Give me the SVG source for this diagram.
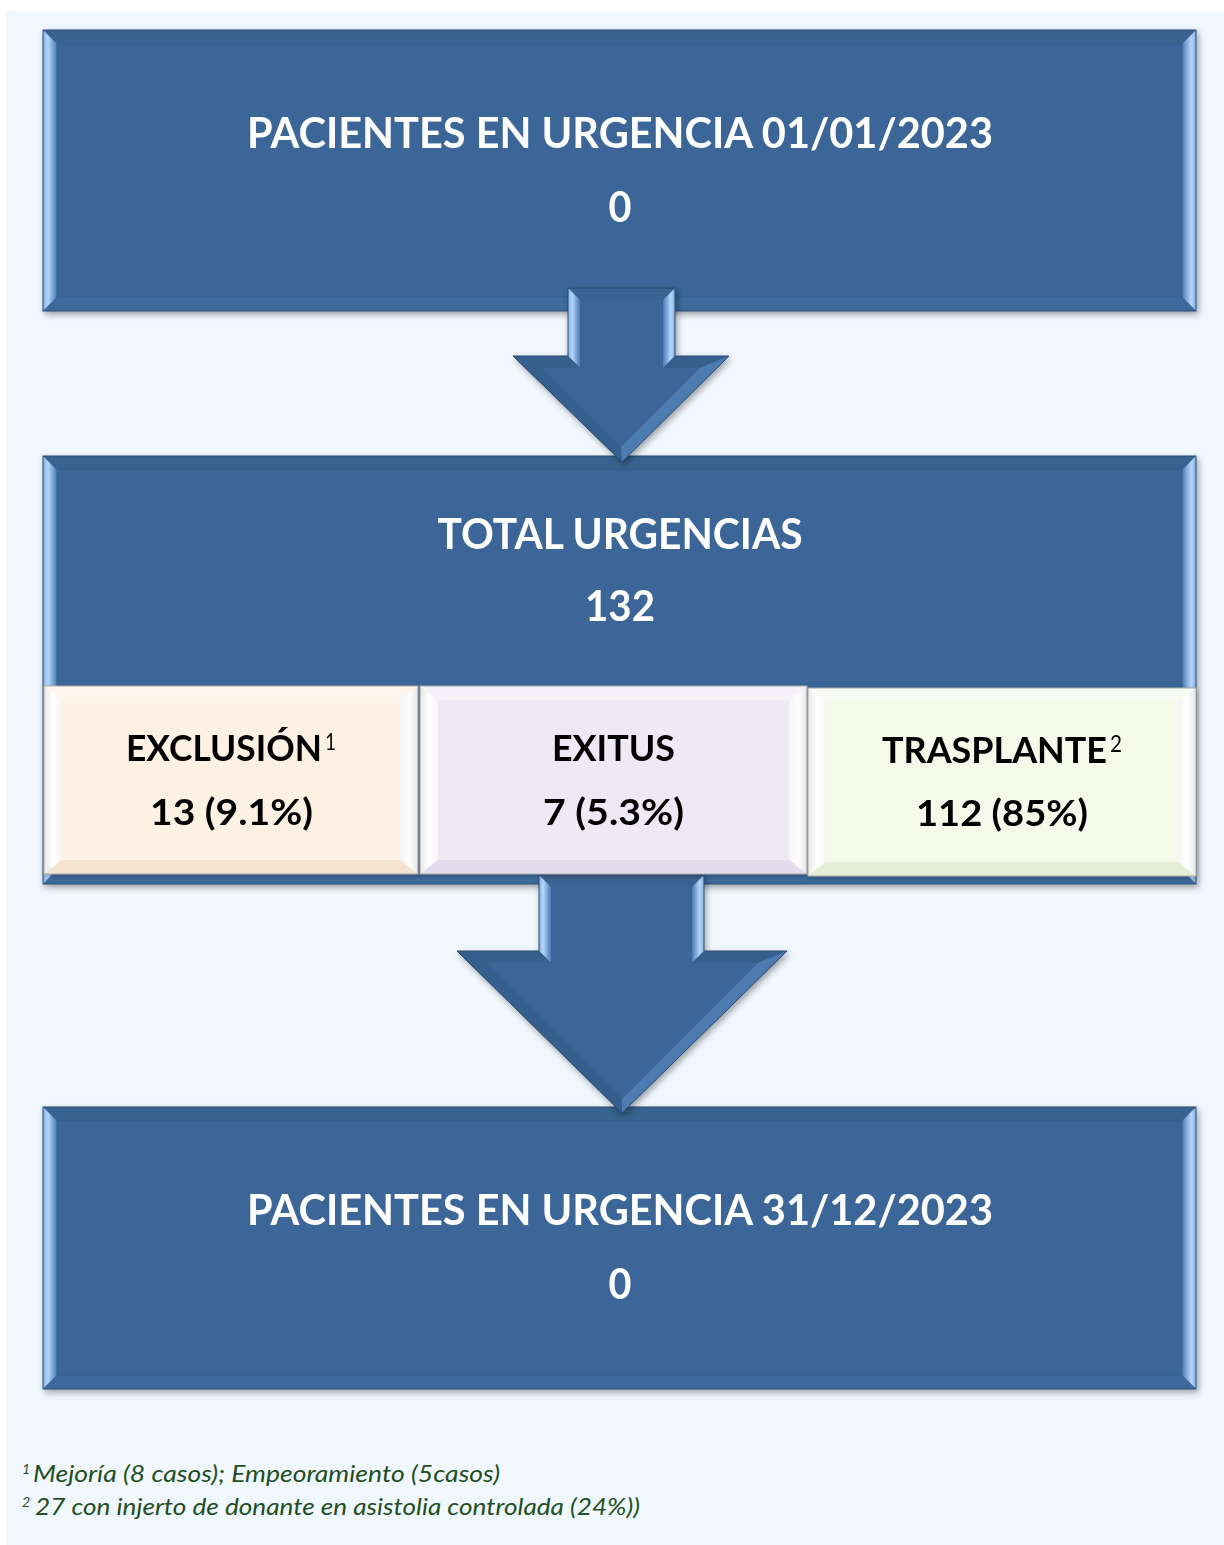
<svg xmlns="http://www.w3.org/2000/svg" width="1224" height="1545" viewBox="0 0 1224 1545">
<defs>
<style>
.bg{fill:#F0F7FD}
.main{fill:#3B6697}
.btop{fill:#38628F}
.bbot{fill:#3E6A9C}
.edge{fill:none;stroke:#2C4D75;stroke-width:1}
.inner{fill:none;stroke:#35608F;stroke-width:1}
.tw{font-family:Lato,"Open Sans","Liberation Sans",sans-serif;font-weight:700;fill:#FFFFFF;text-anchor:middle}
.tb{font-family:Lato,"Open Sans","Liberation Sans",sans-serif;font-weight:700;fill:#000000;text-anchor:middle}
.sup{font-family:Lato,"Open Sans","Liberation Sans",sans-serif;font-weight:400;fill:#000000}
.fn{font-family:Lato,"Open Sans","Liberation Sans",sans-serif;font-style:italic;fill:#1F4F22}
.sedge{fill:none;stroke:#A9A9A9;stroke-width:1}
</style>
<linearGradient id="gL" x1="0" y1="0" x2="1" y2="0">
<stop offset="0" stop-color="#86B0E2"/><stop offset="0.35" stop-color="#B4D6FB"/><stop offset="1" stop-color="#4C7BB3"/>
</linearGradient>
<linearGradient id="gR" x1="1" y1="0" x2="0" y2="0">
<stop offset="0" stop-color="#86B0E2"/><stop offset="0.35" stop-color="#B4D6FB"/><stop offset="1" stop-color="#4C7BB3"/>
</linearGradient>
<linearGradient id="gSlR" x1="0" y1="0" x2="1" y2="1">
<stop offset="0" stop-color="#5A88BF"/><stop offset="1" stop-color="#3F6C9F"/>
</linearGradient>
<linearGradient id="wL" x1="0" y1="0" x2="1" y2="0">
<stop offset="0" stop-color="#E8E8E8"/><stop offset="0.5" stop-color="#FFFFFF"/><stop offset="1" stop-color="#F4F4F4"/>
</linearGradient>
<linearGradient id="wR" x1="1" y1="0" x2="0" y2="0">
<stop offset="0" stop-color="#E8E8E8"/><stop offset="0.5" stop-color="#FFFFFF"/><stop offset="1" stop-color="#F4F4F4"/>
</linearGradient>
<filter id="sh" x="-5%" y="-5%" width="110%" height="115%">
<feDropShadow dx="2" dy="3" stdDeviation="3" flood-color="#000" flood-opacity="0.35"/>
</filter>
<filter id="sh2" x="-5%" y="-5%" width="110%" height="115%">
<feDropShadow dx="1" dy="2" stdDeviation="2" flood-color="#000" flood-opacity="0.25"/>
</filter>
</defs>

<rect class="bg" x="6" y="11" width="1218" height="1534"/>

<g id="box1" filter="url(#sh)">
<rect class="main" x="43" y="30" width="1153" height="281"/>
<polygon class="btop" points="43,30 1196,30 1182,44 57,44"/>
<polygon fill="url(#gL)" points="43,30 57,44 57,297 43,311"/>
<polygon fill="url(#gR)" points="1196,30 1196,311 1182,297 1182,44"/>
<polygon class="bbot" points="43,311 57,297 1182,297 1196,311"/>
<rect class="inner" x="57" y="44" width="1125" height="253"/>
<rect class="edge" x="43" y="30" width="1153" height="281"/>
<text class="tw" x="620" y="148" font-size="42" textLength="746" lengthAdjust="spacingAndGlyphs">PACIENTES EN URGENCIA 01/01/2023</text>
<text class="tw" x="620" y="222" font-size="42" textLength="23" lengthAdjust="spacingAndGlyphs">0</text>
</g>

<g id="box2" filter="url(#sh)">
<rect class="main" x="43" y="456" width="1153" height="428"/>
<polygon class="btop" points="43,456 1196,456 1182,470 57,470"/>
<polygon fill="url(#gL)" points="43,456 57,470 57,870 43,884"/>
<polygon fill="url(#gR)" points="1196,456 1196,884 1182,870 1182,470"/>
<polygon class="bbot" points="43,884 57,870 1182,870 1196,884"/>
<rect class="inner" x="57" y="470" width="1125" height="400"/>
<rect class="edge" x="43" y="456" width="1153" height="428"/>
<text class="tw" x="620" y="549" font-size="42" textLength="365" lengthAdjust="spacingAndGlyphs">TOTAL URGENCIAS</text>
<text class="tw" x="620" y="621" font-size="42" textLength="70" lengthAdjust="spacingAndGlyphs">132</text>
</g>

<g id="box3" filter="url(#sh)">
<rect class="main" x="43" y="1107" width="1153" height="282"/>
<polygon class="btop" points="43,1107 1196,1107 1182,1121 57,1121"/>
<polygon fill="url(#gL)" points="43,1107 57,1121 57,1375 43,1389"/>
<polygon fill="url(#gR)" points="1196,1107 1196,1389 1182,1375 1182,1121"/>
<polygon class="bbot" points="43,1389 57,1375 1182,1375 1196,1389"/>
<rect class="inner" x="57" y="1121" width="1125" height="254"/>
<rect class="edge" x="43" y="1107" width="1153" height="282"/>
<text class="tw" x="620" y="1225" font-size="42" textLength="746" lengthAdjust="spacingAndGlyphs">PACIENTES EN URGENCIA 31/12/2023</text>
<text class="tw" x="620" y="1299" font-size="42" textLength="23" lengthAdjust="spacingAndGlyphs">0</text>
</g>

<g id="connectors">
<g id="arrow1" filter="url(#sh)">
<polygon class="main" points="568,288 675,288 675,356 729,356 622,462 513,356 568,356"/>
<polygon fill="#3A6393" points="568,288 675,288 663,300 580,300"/>
<polygon fill="url(#gL)" points="568,288 580,300 580,368 568,356"/>
<polygon fill="url(#gR)" points="675,288 675,356 663,368 663,300"/>
<polygon fill="#37608F" points="568,356 513,356 542,368 580,368"/>
<polygon fill="#37608F" points="675,356 729,356 700,368 663,368"/>
<polygon fill="#365E8C" points="513,356 622,462 621,447 542,368"/>
<polygon fill="url(#gSlR)" points="729,356 622,462 621,447 700,368"/>
<polygon fill="none" stroke="#2C4D75" stroke-width="1" points="568,288 675,288 675,356 729,356 622,462 513,356 568,356"/>
</g>
<g id="arrow2" filter="url(#sh)">
<polygon class="main" points="539,875 704,875 704,951 787,951 622,1113 457,951 539,951"/>
<polygon fill="#3A6393" points="539,875 704,875 692,887 551,887"/>
<polygon fill="url(#gL)" points="539,875 551,887 551,963 539,951"/>
<polygon fill="url(#gR)" points="704,875 704,951 692,963 692,887"/>
<polygon fill="#37608F" points="539,951 457,951 486,963 551,963"/>
<polygon fill="#37608F" points="704,951 787,951 758,963 692,963"/>
<polygon fill="#365E8C" points="457,951 622,1113 622,1099 486,963"/>
<polygon fill="url(#gSlR)" points="787,951 622,1113 622,1099 758,963"/>
<polygon fill="none" stroke="#2C4D75" stroke-width="1" points="539,875 704,875 704,951 787,951 622,1113 457,951 539,951"/>
</g>
</g>

<g id="exclusion" filter="url(#sh2)">
<rect fill="#FDF1E3" x="44" y="686" width="374" height="188"/>
<polygon fill="#FEF6EE" points="44,686 418,686 400,700 62,700"/>
<polygon fill="url(#wL)" points="44,686 62,700 62,860 44,874"/>
<polygon fill="url(#wR)" points="418,686 418,874 400,860 400,700"/>
<polygon fill="#F4E3D0" points="44,874 62,860 400,860 418,874"/>
<rect class="sedge" x="44" y="686" width="374" height="188"/>
<text class="tb" x="224" y="761" font-size="36" textLength="196" lengthAdjust="spacingAndGlyphs">EXCLUSIÓN</text>
<text class="sup" x="325" y="750" font-size="23" textLength="11" lengthAdjust="spacingAndGlyphs">1</text>
<text class="tb" x="231.5" y="825" font-size="36" textLength="163" lengthAdjust="spacingAndGlyphs">13 (9.1%)</text>
</g>

<g id="exitus" filter="url(#sh2)">
<rect fill="#EEE9F5" x="420" y="686" width="387" height="188"/>
<polygon fill="#F4F1F9" points="420,686 807,686 789,700 438,700"/>
<polygon fill="url(#wL)" points="420,686 438,700 438,860 420,874"/>
<polygon fill="url(#wR)" points="807,686 807,874 789,860 789,700"/>
<polygon fill="#E2DCEC" points="420,874 438,860 789,860 807,874"/>
<rect class="sedge" x="420" y="686" width="387" height="188"/>
<text class="tb" x="613.5" y="761" font-size="36" textLength="123" lengthAdjust="spacingAndGlyphs">EXITUS</text>
<text class="tb" x="613.5" y="825" font-size="36" textLength="141" lengthAdjust="spacingAndGlyphs">7 (5.3%)</text>
</g>

<g id="trasplante" filter="url(#sh2)">
<rect fill="#F4F9EA" x="808" y="688" width="388" height="188"/>
<polygon fill="#F8FBF2" points="808,688 1196,688 1178,702 826,702"/>
<polygon fill="url(#wL)" points="808,688 826,702 826,862 808,876"/>
<polygon fill="url(#wR)" points="1196,688 1196,876 1178,862 1178,702"/>
<polygon fill="#E5EDD6" points="808,876 826,862 1178,862 1196,876"/>
<rect class="sedge" x="808" y="688" width="388" height="188"/>
<text class="tb" x="994.5" y="763" font-size="36" textLength="225" lengthAdjust="spacingAndGlyphs">TRASPLANTE</text>
<text class="sup" x="1110" y="752" font-size="23" textLength="12" lengthAdjust="spacingAndGlyphs">2</text>
<text class="tb" x="1002" y="826" font-size="36" textLength="172" lengthAdjust="spacingAndGlyphs">112 (85%)</text>
</g>

<g id="footnotes">
<text class="fn" x="22" y="1474" font-size="14">1</text>
<text class="fn" x="33" y="1482" font-size="23" textLength="467" lengthAdjust="spacingAndGlyphs">Mejoría (8 casos); Empeoramiento (5casos)</text>
<text class="fn" x="22" y="1507" font-size="14">2</text>
<text class="fn" x="35" y="1515" font-size="23" textLength="605" lengthAdjust="spacingAndGlyphs">27 con injerto de donante en asistolia controlada (24%))</text>
</g>
</svg>
